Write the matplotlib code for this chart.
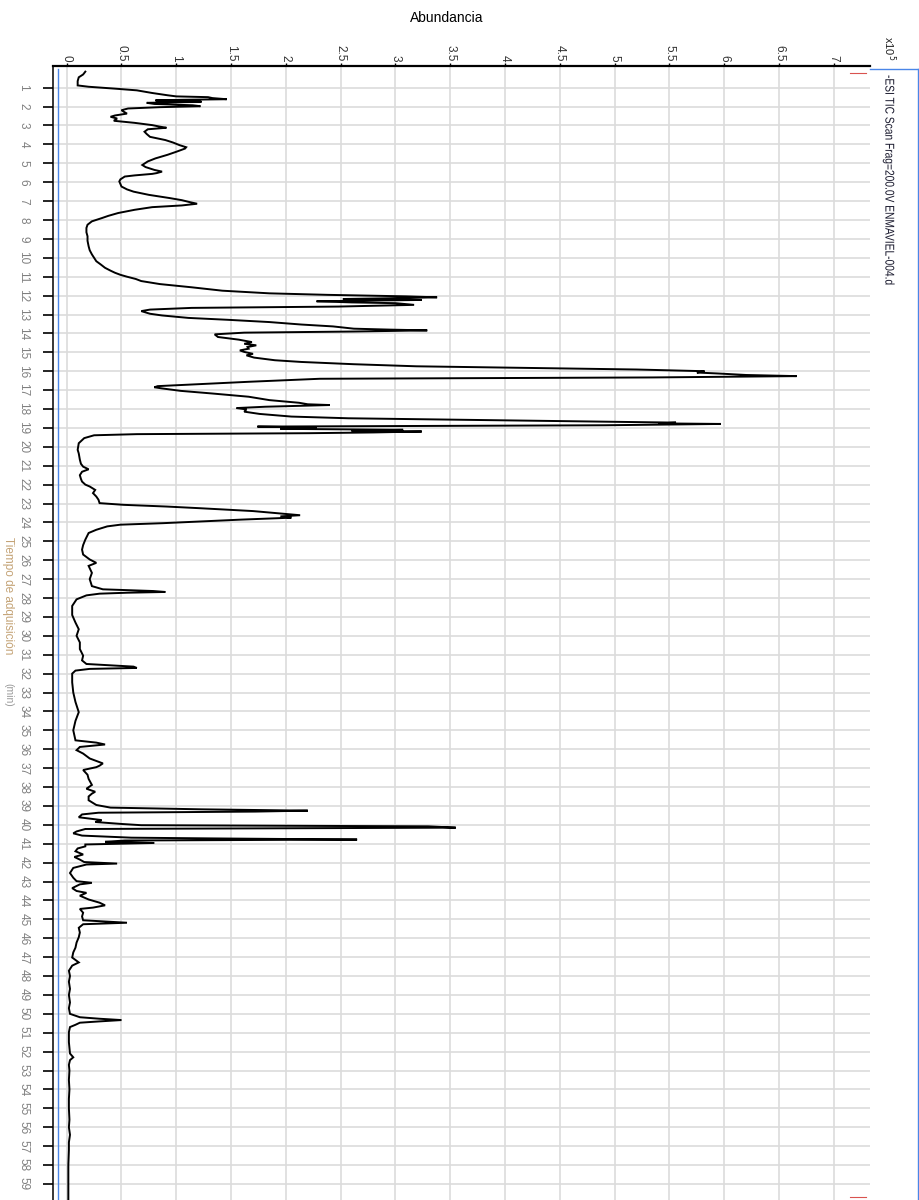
import matplotlib
matplotlib.use("Agg")
import matplotlib.pyplot as plt
from matplotlib.lines import Line2D
from matplotlib.textpath import TextPath
from matplotlib.patches import PathPatch
from matplotlib.font_manager import FontProperties
from matplotlib.transforms import Affine2D, IdentityTransform

# Total ion chromatogram, drawn with time running down the page
tiempo = [
    0.15, 0.30, 0.45, 0.65, 0.88, 0.95, 1.05, 1.14, 1.28, 1.40, 1.46, 1.50, 1.55, 1.61,
    1.64, 1.67, 1.71, 1.75, 1.80, 1.86, 1.93, 1.98, 2.03, 2.10, 2.19, 2.27, 2.37, 2.47,
    2.54, 2.63, 2.75, 2.86, 2.98, 3.06, 3.12, 3.20, 3.33, 3.45, 3.60, 3.77, 3.90, 4.04,
    4.15, 4.22, 4.39, 4.55, 4.74, 4.90, 5.09, 5.20, 5.35, 5.44, 5.52, 5.56, 5.64, 5.70,
    5.85, 5.96, 6.10, 6.23, 6.38, 6.50, 6.67, 6.84, 6.95, 7.05, 7.14, 7.23, 7.32, 7.46,
    7.63, 7.78, 7.90, 8.07, 8.25, 8.42, 8.65, 8.86, 9.10, 9.39, 9.60, 9.82, 10.00, 10.18,
    10.35, 10.53, 10.68, 10.79, 10.90, 11.00, 11.12, 11.23, 11.39, 11.56, 11.74, 11.88,
    11.96, 12.04, 12.09, 12.13, 12.18, 12.23, 12.30, 12.36, 12.40, 12.49, 12.58, 12.65,
    12.74, 12.82, 12.96, 13.05, 13.18, 13.28, 13.40, 13.53, 13.63, 13.75, 13.80, 13.84,
    13.90, 13.96, 14.05, 14.19, 14.33, 14.46, 14.55, 14.63, 14.72, 14.81, 14.90, 14.98,
    15.08, 15.16, 15.28, 15.42, 15.51, 15.63, 15.74, 15.81, 15.91, 16.00, 16.07, 16.12,
    16.20, 16.26, 16.33, 16.40, 16.56, 16.68, 16.79, 16.85, 16.91, 17.04, 17.18, 17.35,
    17.53, 17.67, 17.75, 17.79, 17.84, 17.88, 17.95, 18.02, 18.14, 18.26, 18.40, 18.49,
    18.58, 18.67, 18.72, 18.76, 18.79, 18.86, 18.93, 18.98, 19.05, 19.10, 19.15, 19.19,
    19.24, 19.28, 19.33, 19.39, 19.54, 19.81, 20.16, 20.35, 20.68, 20.90, 21.05, 21.19,
    21.32, 21.50, 21.70, 21.84, 22.00, 22.10, 22.28, 22.45, 22.63, 22.80, 22.98, 23.07,
    23.16, 23.25, 23.40, 23.55, 23.62, 23.68, 23.75, 23.85, 23.95, 24.04, 24.12, 24.21,
    24.39, 24.56, 24.91, 25.20, 25.44, 25.70, 25.96, 26.14, 26.30, 26.67, 27.00, 27.37,
    27.54, 27.63, 27.68, 27.72, 27.77, 27.86, 28.07, 28.42, 28.90, 29.30, 29.65, 30.00,
    30.35, 30.70, 31.05, 31.30, 31.49, 31.63, 31.70, 31.75, 31.84, 32.00, 32.46, 33.00,
    33.50, 34.04, 34.50, 35.00, 35.53, 35.65, 35.75, 35.88, 36.05, 36.23, 36.49, 36.75,
    36.87, 36.95, 37.10, 37.35, 37.57, 37.89, 38.09, 38.25, 38.35, 38.50, 38.70, 38.95,
    39.09, 39.18, 39.25, 39.30, 39.36, 39.45, 39.60, 39.75, 39.85, 39.95, 40.02, 40.08,
    40.15, 40.22, 40.35, 40.45, 40.57, 40.68, 40.72, 40.78, 40.83, 40.90, 40.96, 41.04,
    41.14, 41.25, 41.40, 41.57, 41.70, 41.84, 41.97, 42.05, 42.10, 42.28, 42.55, 42.80,
    42.98, 43.07, 43.15, 43.35, 43.50, 43.60, 43.75, 43.95, 44.12, 44.26, 44.38, 44.45,
    44.65, 44.85, 45.05, 45.18, 45.26, 45.45, 45.70, 45.95, 46.23, 46.50, 46.75, 47.02,
    47.28, 47.45, 47.72, 48.00, 48.30, 48.68, 49.00, 49.40, 49.70, 50.00, 50.18, 50.26,
    50.33, 50.40, 50.47, 50.58, 50.70, 50.97, 51.50, 52.10, 52.30, 52.45, 52.70, 53.00,
    53.50, 54.00, 54.50, 55.00, 55.60, 56.00, 56.40, 56.80, 57.20, 58.00, 59.00, 59.85,
]
abundancia = [
    0.17, 0.15, 0.11, 0.10, 0.10, 0.20, 0.44, 0.64, 0.78, 0.92, 1.00, 1.29, 1.33, 1.46,
    1.05, 0.81, 1.20, 1.23, 0.73, 0.80, 1.15, 1.22, 0.85, 0.56, 0.50, 0.52, 0.55, 0.44,
    0.40, 0.46, 0.43, 0.62, 0.78, 0.85, 0.91, 0.74, 0.71, 0.73, 0.76, 0.90, 0.97, 1.03,
    1.09, 1.08, 1.00, 0.92, 0.81, 0.74, 0.69, 0.72, 0.80, 0.87, 0.82, 0.78, 0.62, 0.53,
    0.49, 0.48, 0.49, 0.50, 0.55, 0.61, 0.75, 0.94, 1.05, 1.12, 1.19, 1.05, 0.78, 0.62,
    0.47, 0.38, 0.32, 0.23, 0.19, 0.18, 0.18, 0.19, 0.19, 0.20, 0.21, 0.23, 0.25, 0.27,
    0.31, 0.35, 0.40, 0.44, 0.49, 0.55, 0.63, 0.68, 0.85, 1.14, 1.42, 1.85,
    2.38, 3.10, 3.38, 3.05, 2.52, 3.24, 2.28, 2.60, 3.00, 3.17, 2.48, 1.14,
    0.76, 0.68, 0.76, 0.87, 1.11, 1.47, 1.85, 2.14, 2.43, 2.62, 2.95, 3.29,
    2.62, 1.62, 1.35, 1.38, 1.57, 1.69, 1.62, 1.73, 1.65, 1.66, 1.58, 1.62,
    1.70, 1.64, 1.71, 1.90, 2.14, 2.62, 3.19, 4.00, 5.20, 5.82, 5.75, 5.94,
    6.20, 6.66, 5.34, 2.31, 1.66, 1.23, 0.83, 0.80, 0.87, 1.04, 1.33, 1.66,
    1.85, 2.12, 2.20, 2.40, 2.05, 1.81, 1.55, 1.64, 1.62, 1.76, 2.05, 2.57,
    3.77, 4.91, 5.56, 5.40, 5.97, 4.91, 1.74, 2.28, 1.95, 3.07, 2.60, 3.24,
    2.80, 2.21, 0.64, 0.25, 0.16, 0.11, 0.10, 0.11, 0.12, 0.13, 0.15, 0.20,
    0.14, 0.12, 0.13, 0.14, 0.17, 0.21, 0.26, 0.24, 0.27, 0.29, 0.30, 0.52,
    0.91, 1.22, 1.70, 2.00, 2.13, 1.95, 2.05, 1.60, 1.22, 0.88, 0.49, 0.37,
    0.27, 0.20, 0.17, 0.15, 0.14, 0.15, 0.21, 0.27, 0.20, 0.23, 0.21, 0.23,
    0.33, 0.79, 0.90, 0.55, 0.30, 0.18, 0.09, 0.05, 0.05, 0.08, 0.11, 0.09,
    0.12, 0.12, 0.15, 0.14, 0.18, 0.61, 0.64, 0.21, 0.08, 0.05, 0.05, 0.06,
    0.08, 0.11, 0.08, 0.06, 0.08, 0.27, 0.35, 0.12, 0.09, 0.15, 0.21, 0.33,
    0.30, 0.27, 0.15, 0.19, 0.20, 0.23, 0.18, 0.26, 0.23, 0.20, 0.20, 0.27,
    0.40, 1.23, 2.20, 1.72, 0.29, 0.14, 0.11, 0.32, 0.26, 0.49, 0.68, 3.30,
    3.55, 0.17, 0.09, 0.06, 0.14, 0.59, 1.35, 2.65, 0.53, 0.35, 0.80, 0.17,
    0.17, 0.10, 0.08, 0.15, 0.07, 0.12, 0.16, 0.46, 0.18, 0.06, 0.03, 0.06,
    0.09, 0.23, 0.12, 0.05, 0.09, 0.18, 0.12, 0.20, 0.30, 0.35, 0.24, 0.12,
    0.15, 0.14, 0.15, 0.55, 0.15, 0.11, 0.12, 0.11, 0.09, 0.08, 0.06, 0.05,
    0.11, 0.05, 0.02, 0.03, 0.02, 0.03, 0.02, 0.03, 0.02, 0.03, 0.12, 0.30,
    0.50, 0.30, 0.12, 0.08, 0.03, 0.02, 0.02, 0.03, 0.06, 0.03, 0.02, 0.025,
    0.02, 0.025, 0.02, 0.02, 0.025, 0.02, 0.03, 0.02, 0.02, 0.015, 0.015, 0.015,
]

ticks_abundancia = [0, 0.5, 1, 1.5, 2, 2.5, 3, 3.5, 4, 4.5, 5, 5.5, 6, 6.5, 7]
etiquetas_abundancia = ["0", "0.5", "1", "1.5", "2", "2.5", "3", "3.5", "4",
                        "4.5", "5", "5.5", "6", "6.5", "7"]
ticks_tiempo = list(range(1, 60))

titulo = "-ESI TIC Scan Frag=200.0V ENMAVIEL-004.d"
escala = r"x10$^{5}$"
eje_abundancia = "Abundancia"
eje_tiempo = "Tiempo de adquisición"
unidad_tiempo = "(min)"

plt.rcParams["font.family"] = ["Liberation Sans", "DejaVu Sans"]

W, H = 919, 1200
fig = plt.figure(figsize=(W / 100, H / 100), dpi=100)


def fx(px):
    return px / W


def fy(py):
    return 1 - py / H


def condensed_vertical_text(s, x_center, y_top, size_pt, squeeze, color):
    """Draw text reading top-to-bottom with horizontally condensed glyphs."""
    prop = FontProperties(family="Liberation Sans")
    path = TextPath((0, 0), s, size=size_pt, prop=prop)
    k = fig.dpi / 72
    cap = 0.72 * size_pt * k
    tr = (Affine2D().scale(squeeze * k, k).rotate_deg(-90)
          .translate(x_center - cap / 2, H - y_top))
    patch = PathPatch(tr.transform_path(path), facecolor=color, edgecolor="none",
                      transform=IdentityTransform())
    fig.add_artist(patch)


ax = fig.add_axes([fx(53), 0, (870 - 53) / W, (H - 66) / H])
ax.plot(abundancia, tiempo, color="black", lw=1.4, solid_joinstyle="miter")
ax.set_xlim(-0.125, 7.33)
ax.set_ylim(59.85, -0.148)

ax.set_xticks(ticks_abundancia)
ax.set_xticklabels(etiquetas_abundancia, rotation=-90, fontsize=8.5, color="#333333")
ax.set_yticks(ticks_tiempo)
ax.set_yticklabels([str(t) for t in ticks_tiempo], rotation=-90,
                   fontsize=8.5, color="#808080", va="center")
ax.xaxis.tick_top()
ax.tick_params(axis="x", direction="out", length=2.5, width=1.0, pad=1, color="black")
ax.tick_params(axis="y", direction="out", length=7, width=1.2, pad=10, color="black")

ax.grid(True, color="#dcdcdc", lw=1.2)
ax.set_axisbelow(True)
for side in ("right", "bottom"):
    ax.spines[side].set_visible(False)
ax.spines["top"].set_linewidth(1.6)
ax.spines["left"].set_linewidth(1.1)

# Blue panel border
blue = "#4a86e8"
fig.add_artist(Line2D([fx(57.5), fx(57.5)], [fy(68.5), fy(1200)], color=blue, lw=1.0))
fig.add_artist(Line2D([fx(870), fx(917.5)], [fy(68.5), fy(68.5)], color=blue, lw=1.0))
fig.add_artist(Line2D([fx(917.5), fx(917.5)], [fy(68.5), fy(1200)], color=blue, lw=1.0))

# Small cursor markers at the right edge
fig.add_artist(Line2D([fx(850), fx(866)], [fy(73), fy(73)], color="#d9534f", lw=0.8))
fig.add_artist(Line2D([fx(850), fx(866)], [fy(1197), fy(1197)], color="#d9534f", lw=0.8))

# Texts
fig.text(fx(447), fy(18), eje_abundancia, ha="center", va="center", fontsize=10)
fig.text(fx(889), fy(36), escala, rotation=-90, ha="center", va="top", fontsize=8,
         color="#222222")
condensed_vertical_text(titulo, 890, 75, 9.2, 0.8, "#1a1a2e")
fig.text(fx(8), fy(537), eje_tiempo, rotation=-90, ha="center", va="top", fontsize=8.5,
         color="#b08448", alpha=0.75)
fig.text(fx(8), fy(683), unidad_tiempo, rotation=-90, ha="center", va="top", fontsize=7.5,
         color="#9a9a9a")

fig.savefig("out.png", dpi=100)
